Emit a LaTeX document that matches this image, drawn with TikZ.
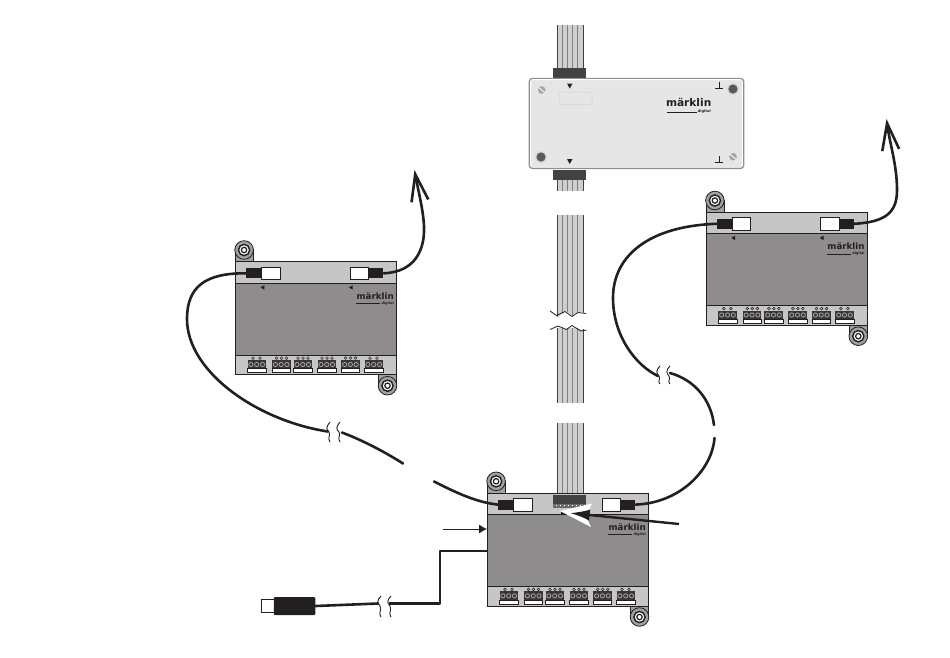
\documentclass[tikz,border=0pt]{standalone}
\usepackage{fontspec}
\setmainfont{DejaVu Sans}
\usetikzlibrary{arrows.meta,calc}
\definecolor{bodygray}{HTML}{8E8C8D}
\definecolor{stripgray}{HTML}{C6C6C6}
\definecolor{lidgray}{HTML}{E6E6E6}
\definecolor{edgegray}{HTML}{8F8F8F}
\definecolor{luggray}{HTML}{A0A0A0}
\definecolor{ribbongray}{HTML}{CFCFCF}
\definecolor{ink}{HTML}{231F20}
\tikzset{
  x=1pt,y=-1pt,
  cablewire/.style={draw=ink,line width=2.6pt,line cap=round},
  powerwire/.style={draw=ink,line width=2.8pt,line join=round},
  breakmark/.style={draw=ink,line width=0.9pt},
  plugwhite/.style={draw=ink,line width=0.7pt,fill=white},
  plugblack/.style={fill=ink,draw=none},
  modbody/.style={draw=ink,line width=0.8pt},
  logotext/.style={font=\bfseries\fontsize{8.7}{9}\selectfont,inner sep=0pt,text=ink},
  digitaltext/.style={font=\bfseries\fontsize{3.4}{4}\selectfont,inner sep=0pt,text=ink},
  barbtip/.style={-{Straight Barb[length=27pt,width=17pt,line width=2.6pt]}},
  pics/lug/.style={code={
    \fill[fill=luggray,draw=ink,line width=0.8pt] (0,0) circle (9.3);
    \draw[draw=ink,line width=1.4pt,fill=white] (0,0) circle (5.6);
    \draw[draw=ink,line width=1.2pt,fill=white] (0,0) circle (2.7);
  }},
  pics/terminal/.style={code={
    \fill[ink!90] (0,0) rectangle (18.5,8.6);
    \draw[draw=ink,line width=0.6pt,fill=white] (0,8.6) rectangle (18.5,12.6);
    \foreach \k in {3.4,9.2,15}{\draw[gray!70,line width=0.8pt] (\k,4.4) circle (2.1);}
  }},
  pics/module/.style={code={
    % lugs
    \fill[luggray,draw=ink,line width=0.7pt] (-0.2,0) -- (-0.2,-12) -- (17.7,-12) -- (17.7,0) -- cycle;
    \pic at (8.6,-11.7) {lug};
    \fill[luggray,draw=ink,line width=0.7pt] (143,113) -- (143,124) -- (161,124) -- (161,113) -- cycle;
    \pic at (152,124) {lug};
    % body
    \fill[bodygray] (0,0) rectangle (161,113);
    \fill[stripgray] (0,0) rectangle (161,21.5);
    \fill[stripgray] (0,93.5) rectangle (161,113);
    \draw[draw=ink,line width=0.8pt] (0,21.5) -- (161,21.5) (0,93.5) -- (161,93.5);
    \draw[modbody] (0,0) rectangle (161,113);
    % terminals
    \foreach \t/\n in {12/2,36.5/3,58/3,82/3,105.7/3,129/2}{
      \pic at (\t,98.4) {terminal};
      \ifnum\n=3
        \foreach \k in {4.5,9.5,14.5}{\draw[ink,line width=0.5pt] (\t+\k,96.3) circle (1.4);}
      \else
        \foreach \k in {5.5,12.5}{\draw[ink,line width=0.5pt] (\t+\k,96.3) circle (1.4);}
      \fi
    }
    % logo
    \node[logotext,anchor=base east] (-logo) at (158.5,37.4) {märklin};
    \draw[ink,line width=0.6pt] (120.5,41.6) -- (144.5,41.6);
    \node[digitaltext,anchor=base east] (-digital) at (158.5,42.6) {digital};
  }},
  pics/plugs/.style={code={
    \node[plugblack,minimum width=15.5pt,minimum height=10pt,inner sep=0pt,anchor=center] (-a) at (18.2,11.6) {};
    \node[plugwhite,minimum width=18.5pt,minimum height=12.5pt,inner sep=0pt,anchor=center] (-aw) at (35.2,11.8) {};
    \node[plugwhite,minimum width=18.5pt,minimum height=12.5pt,inner sep=0pt,anchor=center] (-bw) at (123.7,11.8) {};
    \node[plugblack,minimum width=15.5pt,minimum height=10pt,inner sep=0pt,anchor=center] (-b) at (140.2,11.6) {};
  }},
  pics/marks/.style={code={
    \fill[ink] (28.8,23.5) -- (28.8,28) -- (25,25.7) -- cycle;
    \fill[ink] (117.2,23.5) -- (117.2,28) -- (113.4,25.7) -- cycle;
  }},
}
\begin{document}
\begin{tikzpicture}
\useasboundingbox (0,0) rectangle (950,657);
\fill[white] (0,0) rectangle (950,657);

% ---- ribbon cable
\foreach \ya/\yb in {25/69,180/191,215/318,328/403,423/496}{
  \fill[ribbongray] (557,\ya) rectangle (583,\yb);
  \foreach \x in {562,567,572,577}{\draw[gray,line width=0.6pt] (\x,\ya) -- (\x,\yb);}
  \draw[black!75,line width=0.7pt] (557,\ya) -- (557,\yb) (583,\ya) -- (583,\yb);
}
% torn edge of the ribbon
\fill[white] (548,309) -- (552,314) -- (558,317) -- (566,311) -- (572,316) -- (578,312) -- (588,313)
  -- (588,327) -- (581,330) -- (572,325) -- (566,329) -- (559,326) -- (548,331) -- cycle;
\draw[ink,line width=0.8pt] (550,311) -- (556.5,315.5) -- (565,311.5) -- (572,316.5) -- (578,312.5) -- (586,313.5);
\draw[ink,line width=0.8pt] (550,329.5) -- (558,326) -- (566.5,329.5) -- (572,325.5) -- (581,331) -- (586.5,330);

% ---- lid box
\node[fill=ink!85,draw=none,minimum width=32.5pt,minimum height=10pt,inner sep=0pt] (topconn) at (569.5,73) {};
\node[fill=ink!85,draw=none,minimum width=32.5pt,minimum height=10pt,inner sep=0pt] (botconn) at (569.5,174.5) {};
\node[draw=edgegray,fill=lidgray,line width=1.8pt,rounded corners=3pt,minimum width=214pt,minimum height=89.5pt,inner sep=0pt] (lid) at (636.5,123.4) {};
\draw[white,line width=0.9pt,rounded corners=2pt] (530.6,79.6) rectangle (742.4,167.2);
\draw[lidgray!80!gray,line width=0.5pt,rounded corners=2pt] (559,92) rectangle (592,104.7);
\fill[ink] (567,83.5) -- (572.5,83.5) -- (569.7,88.5) -- cycle;
\fill[ink] (567,159) -- (572.5,159) -- (569.7,164) -- cycle;
\draw[ink,line width=0.6pt] (719,81.5) -- (719,88) (715,88) -- (723,88);
\draw[ink,line width=0.6pt] (719,156) -- (719,162.5) (715,162.5) -- (723,162.5);
\foreach \p in {(733,89),(541,157)}{\fill[gray!30] \p circle (6); \fill[gray!70!black] \p circle (4.6);}
\foreach \p in {(541.7,90),(733,156.7)}{
  \fill[gray!70] \p circle (3.8);
  \draw[white,line width=0.8pt] \p ++(-3,-2.4) -- ++(6,4.8);
}
\node[logotext,font=\bfseries\fontsize{10.6}{11}\selectfont,anchor=base east] (lidlogo) at (711.5,106.7) {märklin};
\draw[ink,line width=0.6pt] (666.5,112.7) -- (697,112.7);
\node[digitaltext,font=\bfseries\fontsize{3.6}{4}\selectfont,anchor=base east] (liddigital) at (711,112.6) {digital};

% ---- modules
\pic (L) at (235.5,261.7) {module};
\pic (R) at (706.3,212.2) {module};
\pic (B) at (487.5,493) {module};
\pic (Lm) at (235.5,261.7) {marks};
\pic (Rm) at (706.3,212.2) {marks};

% bottom module's ribbon socket
\fill[gray!85!black] (552.7,500) rectangle (585.7,508);
\node[fill=ink!85,draw=none,minimum width=33pt,minimum height=9pt,inner sep=0pt] (socket) at (569.2,499.5) {};
\foreach \x in {556,560,564,568,572,576,580}{\fill[white] (\x,504.6) rectangle ++(0.7,0.7);}
\node[fill=ink,minimum width=9pt,minimum height=3.5pt,inner sep=0pt] (pin) at (565,513) {};

% ---- plugs
\pic (Lp) at (235.5,261.7) {plugs};
\pic (Rp) at (706.3,212.2) {plugs};
\pic (Bp) at (487.5,493) {plugs};

% ---- free ends of cables
\coordinate (Larrow) at (414.5,170);
\coordinate (Rarrow) at (886.5,119);
\coordinate (LbreakA) at (328,431.5);
\coordinate (LbreakB) at (342,432.5);
\coordinate (LgapA) at (403,463.5);
\coordinate (LgapB) at (434,481.5);
\coordinate (RbreakA) at (658,376);
\coordinate (RbreakB) at (670,373);
\coordinate (RgapA) at (714,425);
\coordinate (RgapB) at (714.5,438);
\coordinate (PbreakA) at (378,603.5);
\coordinate (PbreakB) at (389,603.5);
\coordinate (Pcorner) at (440,603.5);
\coordinate (Pup) at (440,551);
\coordinate (Pend) at (487,551);

% ---- cables
\draw[cablewire] (Lp-a.west) .. controls (205,273) and (187,287) .. (187,319)
  .. controls (187,372) and (258,421) .. (LbreakA);
\draw[cablewire] (LbreakB) .. controls (362,440) and (385,452) .. (LgapA);
\draw[cablewire] (LgapB) .. controls (455,492) and (475,502) .. (Bp-a.west);
\draw[cablewire,barbtip] (Lp-b.east) .. controls (415,272) and (425,250) .. (424,226)
  .. controls (423,208) and (418,190) .. (Larrow);

\draw[cablewire] (Rp-a.west) .. controls (650,226) and (613,255) .. (613,298)
  .. controls (613,335) and (635,365) .. (RbreakA);
\draw[cablewire] (RbreakB) .. controls (695,380) and (711,400) .. (RgapA);
\draw[cablewire] (RgapB) .. controls (712,470) and (680,503) .. (Bp-b.east);
\draw[cablewire,barbtip] (Rp-b.east) .. controls (885,222) and (897,213) .. (897,190)
  .. controls (897,165) and (890,145) .. (Rarrow);

% ---- break marks on cables
\foreach \x in {0,10}{
  \draw[breakmark] (330+\x,422) .. controls (326+\x,427) and (326+\x,429) .. (329+\x,432) .. controls (331+\x,435) and (327+\x,438) .. (330+\x,442);
}
\foreach \x in {0,10}{
  \draw[breakmark] (660+\x,366) .. controls (656+\x,370) and (656+\x,373) .. (659+\x,376) .. controls (661+\x,379) and (657+\x,381) .. (660+\x,384);
}
\foreach \x in {0,10}{
  \draw[breakmark] (381+\x,596) .. controls (377+\x,600) and (377+\x,603) .. (380+\x,606) .. controls (382+\x,610) and (378+\x,613) .. (381+\x,617);
}

% ---- power plug and wire
\node[plugwhite,line width=1.1pt,minimum width=12.5pt,minimum height=13pt,inner sep=0pt] (jack) at (267.8,606) {};
\node[plugblack,rounded corners=1pt,minimum width=41.5pt,minimum height=18pt,inner sep=0pt] (jackbody) at (294.5,606) {};
\draw[cablewire] (jackbody.east) -- (PbreakA);
\draw[powerwire] (PbreakB) -- (Pcorner) -- (Pup) -- (Pend);

% ---- pointer arrows
\coordinate (pointA) at (443,529);
\draw[-{Latex[length=8pt,width=9pt]},ink,line width=0.8pt] (pointA) -- (487,529);
\coordinate (pointB) at (679,524);
\fill[white] (560,511) -- (592,503.5) -- (586,516.5) -- (591,527) -- cycle;
\draw[-{Latex[length=20pt,width=11pt]},ink,line width=2.4pt] (pointB) -- (pin.east);
\end{tikzpicture}
\end{document}
